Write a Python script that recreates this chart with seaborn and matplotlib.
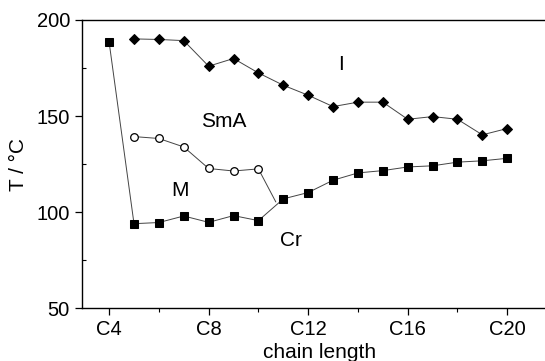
import matplotlib
matplotlib.use("Agg")
import matplotlib.pyplot as plt
from matplotlib.ticker import MultipleLocator
import seaborn as sns

sns.set_style("ticks")
plt.rcParams['font.family'] = ['Liberation Sans', 'DejaVu Sans']
plt.rcParams['text.color'] = 'black'
plt.rcParams['axes.labelcolor'] = 'black'
plt.rcParams['xtick.color'] = 'black'
plt.rcParams['ytick.color'] = 'black'

# clearing (I) temperatures
iso_x = [5, 6, 7, 8, 9, 10, 11, 12, 13, 14, 15, 16, 17, 18, 19, 20]
iso_t = [190.1, 189.8, 189.2, 175.9, 179.9, 172.4, 166.0, 160.8, 154.9,
         157.2, 157.2, 148.3, 149.7, 148.3, 140.2, 143.5]

# M -> SmA temperatures
m_x = [5, 6, 7, 8, 9, 10]
m_t = [139.3, 138.3, 133.9, 122.7, 121.4, 122.5]
# where the M boundary meets the Cr line
m_end_x = [10, 10.7]
m_end_t = [122.5, 105.3]

# melting (Cr) temperatures
cr_x = [4, 5, 6, 7, 8, 9, 10, 11, 12, 13, 14, 15, 16, 17, 18, 19, 20]
cr_t = [188.4, 94.0, 94.6, 98.0, 94.7, 98.2, 95.6, 106.9, 110.2, 116.6,
        120.4, 121.6, 123.5, 124.1, 126.0, 126.7, 128.0]

phase_labels = ["I", "SmA", "M", "Cr"]
label_x = [13.3, 8.6, 6.85, 11.3]
label_y = [177, 147, 111, 85]

xticks = [4, 8, 12, 16, 20]
xtick_labels = ["C4", "C8", "C12", "C16", "C20"]

fig = plt.figure(figsize=(5.45, 3.61), dpi=100)
ax = fig.add_axes([0.150, 0.146, 0.872, 0.799])

line_kw = dict(color="#444444", linewidth=0.7)
sns.lineplot(x=iso_x, y=iso_t, ax=ax, marker="D", markersize=5.5,
             markerfacecolor="black", markeredgecolor="black", **line_kw)
sns.lineplot(x=m_end_x, y=m_end_t, ax=ax, **line_kw)
sns.lineplot(x=m_x, y=m_t, ax=ax, marker="o", markersize=5.5,
             markerfacecolor="white", markeredgecolor="black",
             markeredgewidth=0.9, **line_kw)
sns.lineplot(x=cr_x, y=cr_t, ax=ax, marker="s", markersize=5.5,
             markerfacecolor="black", markeredgecolor="black", **line_kw)

for lab, lx, ly in zip(phase_labels, label_x, label_y):
    ax.text(lx, ly, lab, fontsize=15, ha="center", va="center")

ax.set_xlim(2.9, 22.0)
ax.set_ylim(50, 200)
ax.set_xticks(xticks)
ax.set_xticklabels(xtick_labels)
ax.xaxis.set_minor_locator(MultipleLocator(2))
ax.set_yticks([50, 100, 150, 200])
ax.yaxis.set_minor_locator(MultipleLocator(25))
ax.tick_params(which="major", direction="out", length=5, width=0.9, labelsize=14.5)
ax.tick_params(axis="y", which="minor", direction="in", length=3, width=0.8)
ax.tick_params(axis="x", which="minor", direction="out", length=3, width=0.8)
ax.set_xlabel("chain length", fontsize=15, labelpad=3)
ax.set_ylabel("T / °C", fontsize=15, labelpad=6)
for s in ax.spines.values():
    s.set_linewidth(1.0)
    s.set_color("black")

fig.savefig("out.png", dpi=100)
